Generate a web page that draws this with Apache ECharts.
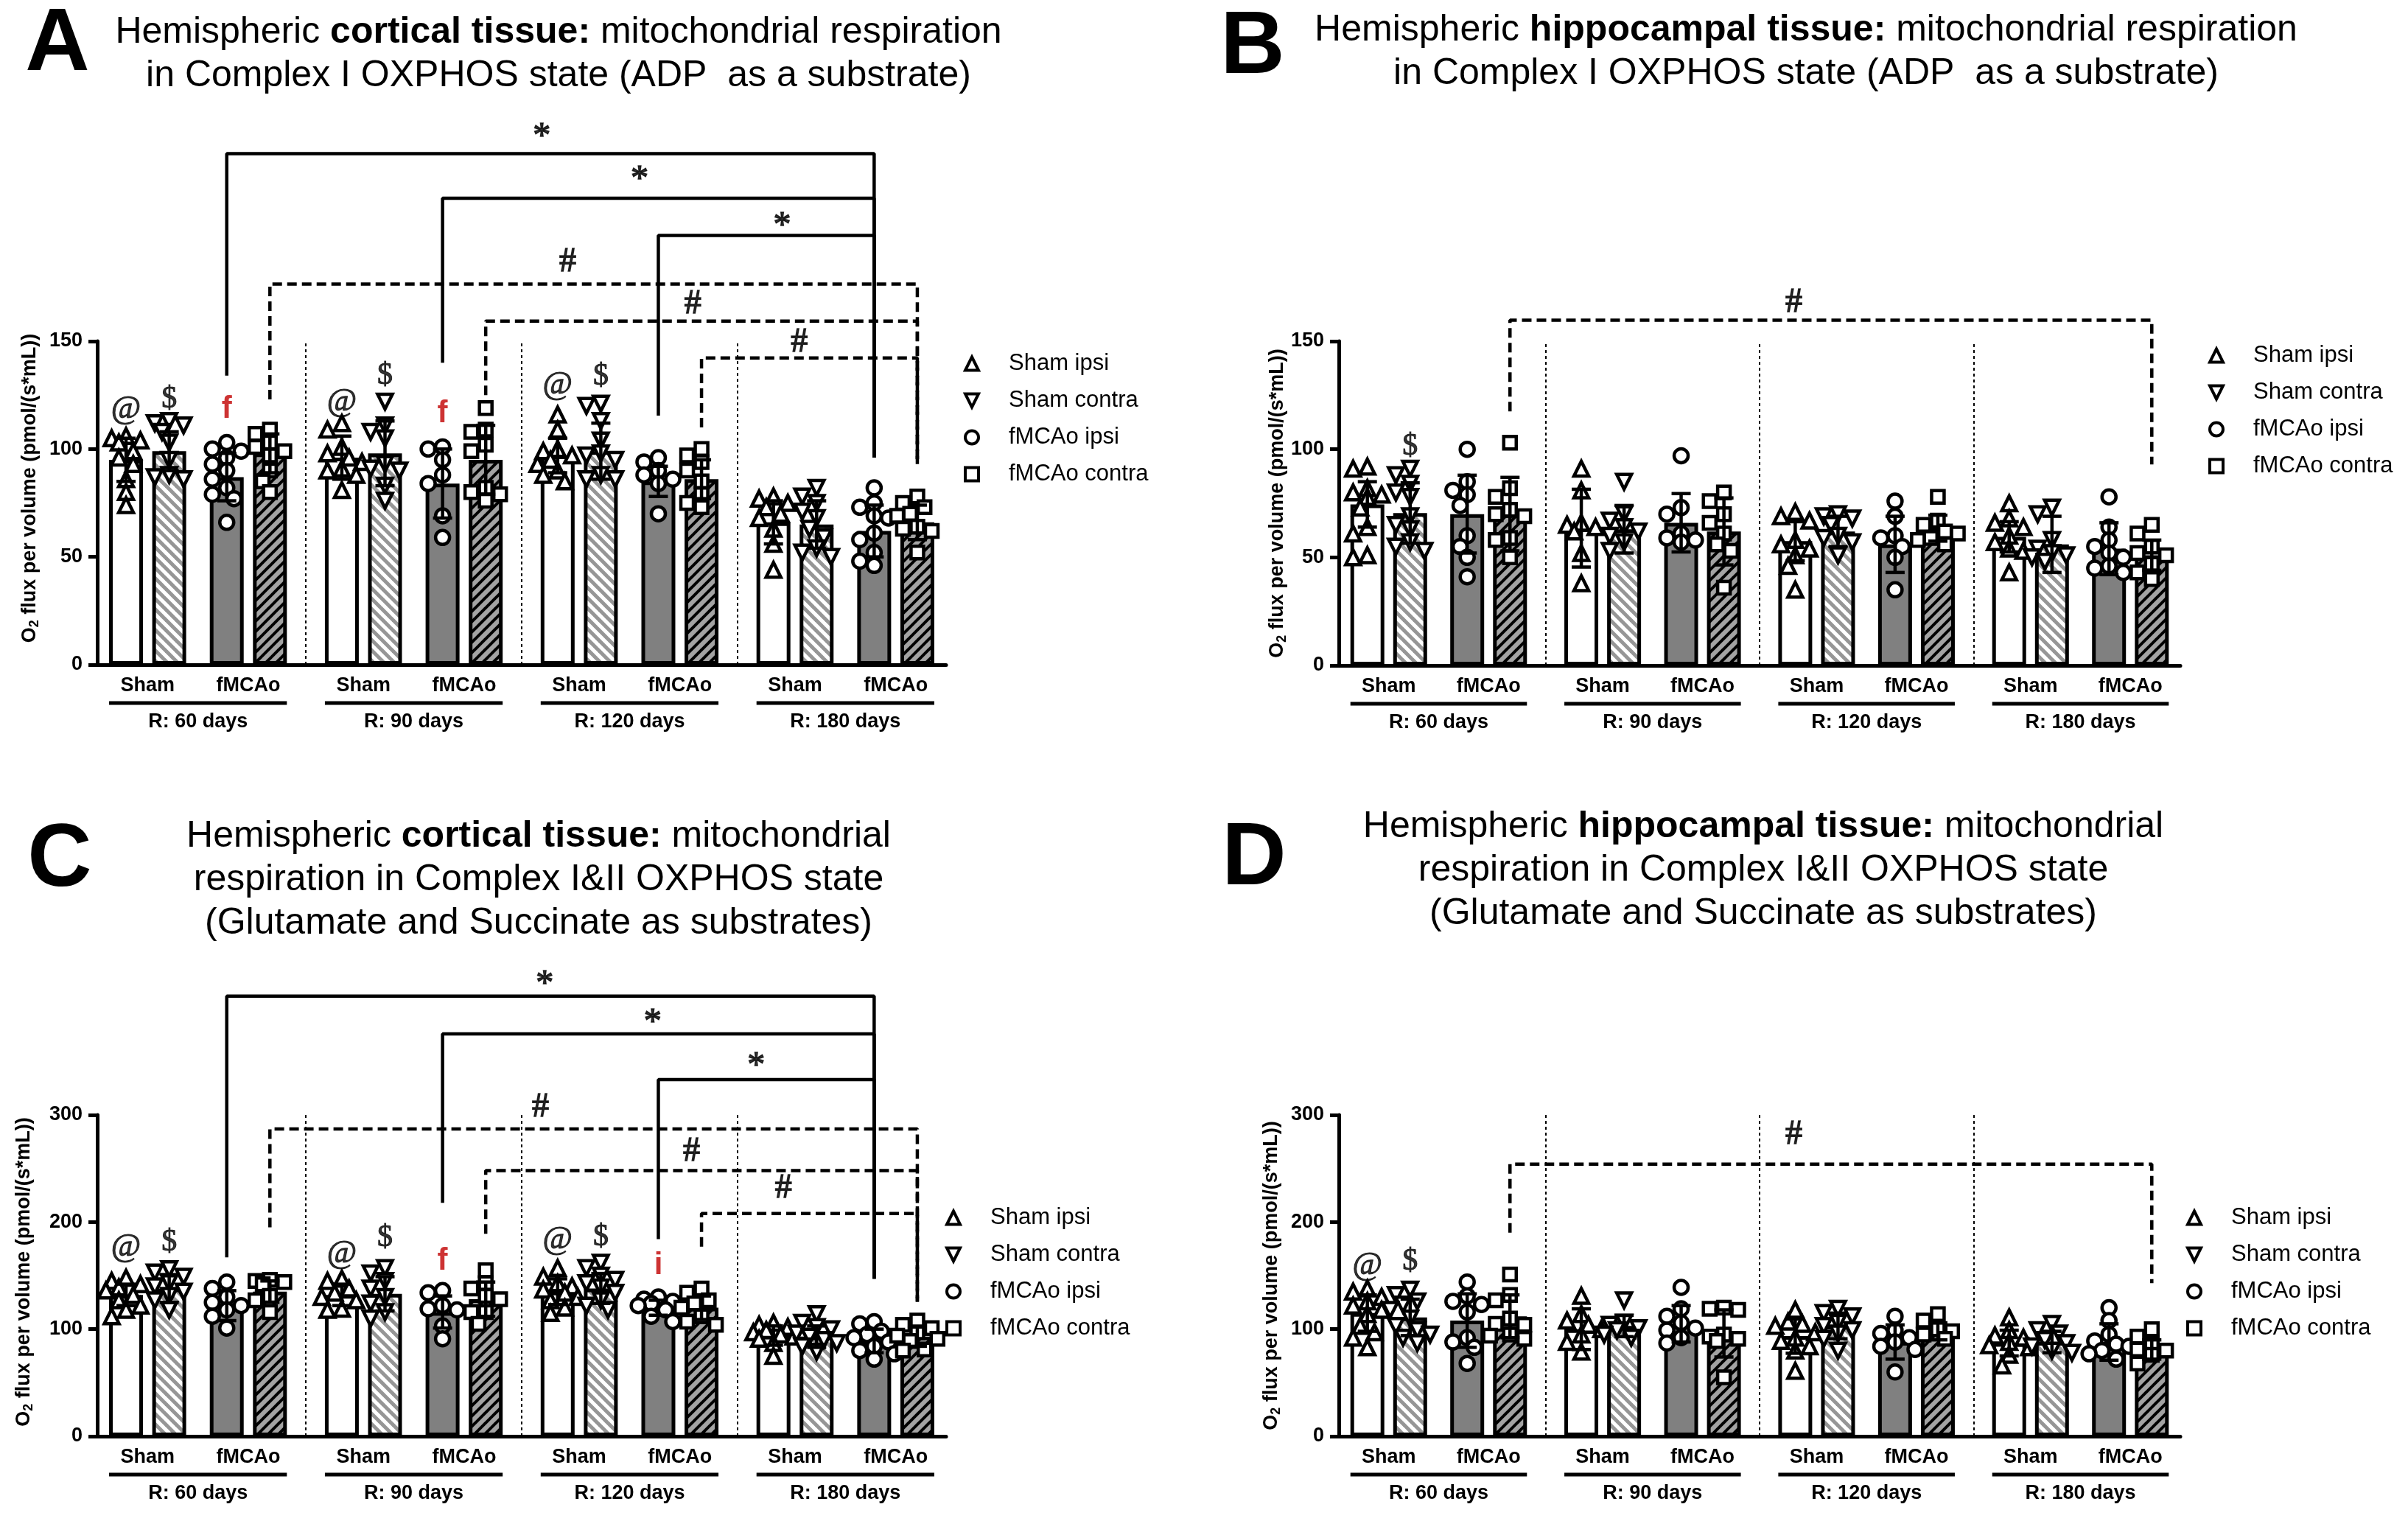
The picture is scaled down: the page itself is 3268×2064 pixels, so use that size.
<!DOCTYPE html>
<html>
<head>
<meta charset="utf-8">
<title>Mitochondrial respiration – cortical and hippocampal tissue</title>
<script src="https://cdn.jsdelivr.net/npm/echarts@6.0.0/dist/echarts.min.js"></script>
<style>
html,body{margin:0;padding:0;background:#ffffff;}
#chart{width:3268px;height:2064px;}
</style>
</head>
<body>
<div id="chart"></div>
<script>
// ====================== DATA ======================
const periods = ['R: 60 days', 'R: 90 days', 'R: 120 days', 'R: 180 days'];
const conditions = ['Sham', 'fMCAo'];
const groups = ['Sham ipsi', 'Sham contra', 'fMCAo ipsi', 'fMCAo contra'];
const ticksAB = [0, 50, 100, 150];
const ticksCD = [0, 100, 200, 300];

const titleA = ['Hemispheric ', 'cortical tissue:', ' mitochondrial respiration', 'in Complex I OXPHOS state (ADP  as a substrate)'];
const titleB = ['Hemispheric ', 'hippocampal tissue:', ' mitochondrial respiration', 'in Complex I OXPHOS state (ADP  as a substrate)'];
const titleC = ['Hemispheric ', 'cortical tissue:', ' mitochondrial', 'respiration in Complex I&II OXPHOS state', '(Glutamate and Succinate as substrates)'];
const titleD = ['Hemispheric ', 'hippocampal tissue:', ' mitochondrial', 'respiration in Complex I&II OXPHOS state', '(Glutamate and Succinate as substrates)'];
const letters = ['A', 'B', 'C', 'D'];

// Means and SD, [period][group]
const meanA = [[95, 99, 87, 98], [96, 98, 84, 95], [97, 99, 85, 86], [66, 65, 62, 66]];
const sdA   = [[10, 9, 11, 9], [10, 15, 16, 16], [8, 13, 7, 9], [10, 11, 12, 8]];
const meanB = [[74.5, 70.5, 70, 70], [63.5, 63, 66, 62], [57.5, 62, 56, 63.5], [59.5, 56, 54, 51]];
const sdB   = [[10.5, 14, 18, 17], [18, 11, 13.5, 15.5], [9, 7, 13, 6], [7, 13, 12, 7]];
const meanC = [[132, 138, 122, 135], [132, 133, 116, 128], [135, 138, 120, 120], [94, 93, 89, 93]];
const sdC   = [[10, 13, 14, 10], [10, 16, 15, 16], [12, 14, 7, 11], [9, 10, 11, 9]];
const meanD = [[115, 111, 108, 112], [100, 103, 105, 96], [93.5, 103, 88, 98], [87, 88, 88, 81]];
const sdD   = [[17, 17, 25, 20], [19, 10, 17, 22], [16, 12, 16, 8], [12, 10, 17, 9]];

// Individual animals, [period][group][...]
const ptsA = [
  [[106,105,104,103,99,96,93,86,80,74],[113,112,111,108,103,95,88,87,86],[103,100,99,96,93,90,86,82,79,77,66],[109,107,103,101,99,97,90,85,80]],
  [[112,109,101,98,96,94,91,90,88,81],[122,111,108,105,93,91,90,83,76],[101,100,95,88,84,69,59],[119,109,108,102,99,82,80,79,76]],
  [[116,109,100,99,97,95,93,90,88,85],[121,120,113,104,98,97,95,88,86,86],[96,94,90,88,86,84,70],[100,97,94,90,85,79,75,73]],
  [[78,77,75,73,70,68,63,56,44],[82,78,75,71,68,63,59,54,52,50],[82,75,73,69,68,61,58,52,48,46],[78,75,73,70,69,64,63,62,52]]
];
const ptsB = [
  [[92,91,82,80,79,78,73,64,61,51,50],[91,88,84,80,78,69,65,63,57,55,53],[100,85,81,79,74,60,55,50,41],[103,82,78,72,70,69,59,58,50]],
  [[91,81,66,65,64,62,52,38],[85,70,67,64,62,60,57,53],[97,73,70,61,59,58,57],[80,76,70,66,61,56,53,36]],
  [[71,69,67,58,56,54,51,46,35],[70,69,68,65,60,59,57,51],[76,69,60,59,55,50,35],[78,67,65,62,61,59,58,56]],
  [[75,68,66,64,60,57,54,53,43],[73,70,58,54,52,51,50,48],[78,64,58,55,52,50,46,45,43],[65,61,55,52,51,47,43,40]]
];
const ptsC = [
  [[148,145,142,139,136,132,127,122,118,112],[156,153,149,143,140,135,131,127,118],[144,138,130,125,122,118,112,101],[146,145,144,142,131,127,116]],
  [[147,145,138,134,130,127,119,118],[157,152,145,138,130,124,116,110],[136,134,122,119,118,103,91],[155,143,138,131,128,116,116,105]],
  [[157,149,143,140,137,134,130,127,120,115],[162,157,150,146,143,139,134,127,122,118],[130,128,126,124,122,118,112,107],[138,134,127,124,120,112,107,104]],
  [[106,104,102,99,97,95,93,91,87,75],[114,106,102,100,96,93,90,87,84,79],[107,105,98,95,92,88,84,80,77,72],[108,104,101,97,94,91,89,81,80]]
];
const ptsD = [
  [[138,135,130,126,122,118,114,103,97,92,83],[137,132,126,123,118,110,103,99,95,92,87],[144,131,126,123,116,92,88,83,68],[151,132,127,110,105,104,95,94,91]],
  [[131,114,108,104,100,95,88,79],[127,106,104,101,99,95,92],[139,119,112,106,101,99,92,87],[120,119,118,95,93,91,89,55]],
  [[118,107,105,103,97,92,89,84,80,61],[119,115,112,106,103,99,96,91,80],[112,99,96,92,88,84,81,60],[114,108,100,98,95,91]],
  [[111,99,94,92,88,85,83,76,66],[105,99,96,90,87,84,80,78],[120,108,95,89,86,84,80,77,72],[100,93,87,81,80,76,68]]
];

// Significance brackets: from/to = [period, group]; top/leg values in data units
const bracketsA = [
  {from:[0,2], to:[3,2], top:237,   legFrom:134,   legTo:96, dashed:false, text:'*', tx:28.9, ty:244.6},
  {from:[1,2], to:[3,2], top:216.3, legFrom:140,   legTo:96, dashed:false, text:'*', tx:35.7, ty:224.6},
  {from:[2,2], to:[3,2], top:199,   legFrom:115.5, legTo:96, dashed:false, text:'*', tx:45.6, ty:203.3},
  {from:[0,3], to:[3,3], top:176.5, legFrom:123,   legTo:93, dashed:true,  text:'#', tx:30.7, ty:186.5},
  {from:[1,3], to:[3,3], top:159.3, legFrom:125,   legTo:93, dashed:true,  text:'#', tx:39.4, ty:167.2},
  {from:[2,3], to:[3,3], top:142.2, legFrom:110,   legTo:93, dashed:true,  text:'#', tx:46.8, ty:149.4}
];
const bracketsB = [
  {from:[0,3], to:[3,3], top:159.7, legFrom:117.5, legTo:93, dashed:true, text:'#', tx:29.9, ty:167.6}
];
const bracketsC = [
  {from:[0,2], to:[3,2], top:411,   legFrom:167, legTo:147,   dashed:false, text:'*', tx:29.1, ty:421.5},
  {from:[1,2], to:[3,2], top:375.7, legFrom:218, legTo:147,   dashed:false, text:'*', tx:36.6, ty:385.6},
  {from:[2,2], to:[3,2], top:333,   legFrom:184, legTo:147,   dashed:false, text:'*', tx:43.8, ty:345.4},
  {from:[0,3], to:[3,3], top:287,   legFrom:195, legTo:125.6, dashed:true,  text:'#', tx:28.8, ty:307.2},
  {from:[1,3], to:[3,3], top:248,   legFrom:189, legTo:125.6, dashed:true,  text:'#', tx:39.3, ty:265.6},
  {from:[2,3], to:[3,3], top:208,   legFrom:177, legTo:125.6, dashed:true,  text:'#', tx:45.7, ty:231.2}
];
const bracketsD = [
  {from:[0,3], to:[3,3], top:254, legFrom:190, legTo:143, dashed:true, text:'#', tx:29.9, ty:281.4}
];

// Symbols above bars: [period, group, value, text]
const marksA = [[0,0,118.5,'@'],[0,1,123,'$'],[0,2,118.5,'f'],[1,0,122,'@'],[1,1,134,'$'],[1,2,116.5,'f'],[2,0,129.7,'@'],[2,1,133.6,'$']];
const marksB = [[0,1,101.3,'$']];
const marksC = [[0,0,176.8,'@'],[0,1,180.8,'$'],[1,0,170,'@'],[1,1,184.8,'$'],[1,2,163.3,'f'],[2,0,183.5,'@'],[2,1,186,'$'],[2,2,159.3,'i']];
const marksD = [[0,0,159.3,'@'],[0,1,163.3,'$']];

// ====================== STYLE / LAYOUT ======================
const F = "'Liberation Sans', Arial, Helvetica, sans-serif";
const FS = "'Liberation Serif', 'Times New Roman', serif";
const OFF = [0, 3, 7, 10];      // bar slots inside a period
const PERIOD_W = 15;            // slots per period
const X_MIN = -2, X_MAX = 57;
const xOf = (p, g) => p * PERIOD_W + OFF[g];

const layout = [
  {grid:{left:132,  top:463,  width:1152, height:439}, nameGap:76, nameShift:40, legend:{left:1308, top:478},  title:{left:758,  top:15},   letter:{left:78,   top:1}},
  {grid:{left:1817, top:463,  width:1142, height:440}, nameGap:68, nameShift:0,  legend:{left:2997, top:467},  title:{left:2451, top:12},   letter:{left:1700, top:5}},
  {grid:{left:132,  top:1513, width:1152, height:436}, nameGap:84, nameShift:10, legend:{left:1283, top:1637}, title:{left:731,  top:1106}, letter:{left:81,   top:1108}},
  {grid:{left:1817, top:1513, width:1142, height:436}, nameGap:76, nameShift:0,  legend:{left:2967, top:1637}, title:{left:2393, top:1093}, letter:{left:1702, top:1106}}
];

const panels = [
  {means:meanA, sds:sdA, pts:ptsA, ticks:ticksAB, brackets:bracketsA, marks:marksA, title:titleA},
  {means:meanB, sds:sdB, pts:ptsB, ticks:ticksAB, brackets:bracketsB, marks:marksB, title:titleB},
  {means:meanC, sds:sdC, pts:ptsC, ticks:ticksCD, brackets:bracketsC, marks:marksC, title:titleC},
  {means:meanD, sds:sdD, pts:ptsD, ticks:ticksCD, brackets:bracketsD, marks:marksD, title:titleD}
];

function stripes(bg, fg, dir, P, lw) {
  const c = document.createElement('canvas');
  c.width = P; c.height = P;
  const ctx = c.getContext('2d');
  ctx.fillStyle = bg; ctx.fillRect(0, 0, P, P);
  ctx.strokeStyle = fg; ctx.lineWidth = lw; ctx.lineCap = 'square';
  for (let k = -1; k <= 1; k++) {
    ctx.beginPath();
    if (dir === '/') { ctx.moveTo(k * P, P); ctx.lineTo(k * P + P, 0); }
    else { ctx.moveTo(k * P, 0); ctx.lineTo(k * P + P, P); }
    ctx.stroke();
  }
  return c;
}
const fills = [
  '#ffffff',
  {image: stripes('#ffffff', '#969696', '\\', 14, 5), repeat: 'repeat'},
  '#808080',
  {image: stripes('#a3a3a3', '#000000', '/', 14, 4), repeat: 'repeat'}
];
const DOWN_TRI = 'path://M0,0L20,0L10,20Z';
const symbols = ['triangle', DOWN_TRI, 'circle', 'rect'];
const symSize = [20, 20, 19, 17];

const markStyle = {
  '@': {fontFamily: FS, fontSize: 44, color: '#000', textBorderColor: '#000', textBorderWidth: 1},
  '$': {fontFamily: FS, fontSize: 42, color: '#000', textBorderColor: '#000', textBorderWidth: 1},
  'f': {fontFamily: F, fontSize: 42, fontWeight: 'bold', color: '#c00000'},
  'i': {fontFamily: F, fontSize: 42, fontWeight: 'bold', color: '#c00000'},
  '*': {fontFamily: FS, fontSize: 48, color: '#000', textBorderColor: '#000', textBorderWidth: 1.5},
  '#': {fontFamily: FS, fontSize: 46, color: '#000', textBorderColor: '#000', textBorderWidth: 1.5}
};

// beeswarm-like horizontal spreading (layout only)
function swarmOffsets(vals, pxX, pxY, minD) {
  const idx = vals.map((v, i) => i).sort((a, b) => vals[b] - vals[a]);
  const cands = [0, -0.5, 0.5, -1.0, 1.0, -1.4, 1.4];
  const placed = [], out = [];
  idx.forEach(i => {
    let best = 0, bestScore = -1;
    for (const c of cands) {
      let dmin = Infinity;
      placed.forEach(p => { dmin = Math.min(dmin, Math.hypot((p.o - c) * pxX, (p.v - vals[i]) * pxY)); });
      if (dmin >= minD) { best = c; bestScore = Infinity; break; }
      if (dmin > bestScore) { bestScore = dmin; best = c; }
    }
    out[i] = best;
    placed.push({o: best, v: vals[i]});
  });
  return out;
}

function errRender(params, api) {
  const x = api.value(0), m = api.value(1), s = api.value(2);
  const t = api.coord([x, m + s]), b = api.coord([x, m - s]);
  const hw = 13, st = {stroke: '#000', lineWidth: 4.5};
  return {type: 'group', children: [
    {type: 'line', shape: {x1: t[0], y1: t[1], x2: b[0], y2: b[1]}, style: st},
    {type: 'line', shape: {x1: t[0] - hw, y1: t[1], x2: t[0] + hw, y2: t[1]}, style: st},
    {type: 'line', shape: {x1: b[0] - hw, y1: b[1], x2: b[0] + hw, y2: b[1]}, style: st}
  ]};
}

// ====================== BUILD OPTION ======================
const grids = [], xAxes = [], yAxes = [], series = [], titles = [], legends = [];

panels.forEach((P, pi) => {
  const L = layout[pi];
  const yMax = P.ticks[P.ticks.length - 1];
  const yInt = P.ticks[1] - P.ticks[0];
  const pxX = L.grid.width / (X_MAX - X_MIN);
  const pxY = L.grid.height / yMax;

  grids.push(Object.assign({containLabel: false, outerBoundsMode: 'none'}, L.grid));
  xAxes.push({
    type: 'value', gridIndex: pi, min: X_MIN, max: X_MAX,
    axisLine: {show: true, onZero: false, lineStyle: {color: '#000', width: 5}},
    axisTick: {show: false}, axisLabel: {show: false}, splitLine: {show: false}
  });
  yAxes.push({
    type: 'value', gridIndex: pi, min: P.ticks[0], max: yMax, interval: yInt,
    axisLine: {show: true, onZero: false, lineStyle: {color: '#000', width: 5}},
    axisTick: {show: true, length: 12, lineStyle: {color: '#000', width: 5}},
    axisLabel: {fontSize: 27, fontWeight: 'bold', fontFamily: F, color: '#000', margin: 20},
    splitLine: {show: false},
    name: '{o|O}{s|2}{o| flux per volume (pmol/(s*mL))}',
    nameLocation: 'middle', nameGap: L.nameGap, nameRotate: 90, nameMoveOverlap: false,
    nameTextStyle: {padding: [0, 0, 0, L.nameShift], rich: {
      o: {fontSize: 27, fontWeight: 'bold', fontFamily: F, color: '#000', lineHeight: 31},
      s: {fontSize: 18, fontWeight: 'bold', fontFamily: F, color: '#000', verticalAlign: 'bottom', lineHeight: 31}
    }}
  });

  // bars
  groups.forEach((g, gi) => {
    const s = {
      type: 'bar', name: g + ' (mean)', xAxisIndex: pi, yAxisIndex: pi,
      barWidth: 46, barGap: '-100%', silent: true, z: 2,
      data: P.means.map((row, k) => [xOf(k, gi), row[gi]]),
      itemStyle: {color: fills[gi], borderColor: '#000', borderWidth: 5}
    };
    if (gi === 0) {
      s.markLine = {
        silent: true, symbol: ['none', 'none'], label: {show: false},
        lineStyle: {color: '#000', width: 2, type: [4, 4]},
        data: [{xAxis: 12.5}, {xAxis: 27.5}, {xAxis: 42.5}]
      };
    }
    series.push(s);
  });

  // individual points
  groups.forEach((g, gi) => {
    const data = [];
    P.pts.forEach((periodPts, k) => {
      const vals = periodPts[gi];
      const offs = swarmOffsets(vals, pxX, pxY, 16);
      vals.forEach((v, j) => data.push([xOf(k, gi) + offs[j], v]));
    });
    series.push({
      type: 'scatter', name: g, xAxisIndex: pi, yAxisIndex: pi, z: 3, silent: true, clip: false,
      symbol: symbols[gi], symbolSize: symSize[gi], symbolKeepAspect: true,
      itemStyle: {color: '#ffffff', borderColor: '#000', borderWidth: 4.5, opacity: 1},
      data: data
    });
  });

  // error bars (mean ± SD)
  const errData = [];
  P.means.forEach((row, k) => row.forEach((m, gi) => errData.push([xOf(k, gi), m, P.sds[k][gi]])));
  series.push({
    type: 'custom', name: 'SD', xAxisIndex: pi, yAxisIndex: pi, z: 4, silent: true, clip: false,
    renderItem: errRender, encode: {x: 0, y: 1}, data: errData
  });

  // brackets
  P.brackets.forEach(b => {
    const x1 = xOf(b.from[0], b.from[1]), x2 = xOf(b.to[0], b.to[1]);
    series.push({
      type: 'line', xAxisIndex: pi, yAxisIndex: pi, z: 5, silent: true, clip: false,
      symbol: 'none', showSymbol: false,
      lineStyle: {color: '#000', width: 4.5, type: b.dashed ? [13, 7] : 'solid'},
      data: [[x1, b.legFrom], [x1, b.top], [x2, b.top], [x2, b.legTo]]
    });
  });

  // text annotations (* # @ $ f i)
  const txt = [];
  P.brackets.forEach(b => txt.push({value: [b.tx, b.ty], t: b.text}));
  P.marks.forEach(m => txt.push({value: [xOf(m[0], m[1]), m[2]], t: m[3]}));
  series.push({
    type: 'scatter', xAxisIndex: pi, yAxisIndex: pi, z: 6, silent: true, clip: false,
    symbol: 'circle', symbolSize: 1, itemStyle: {color: 'rgba(0,0,0,0)'},
    data: txt.map(d => ({
      value: d.value,
      label: Object.assign({show: true, position: 'inside', formatter: d.t}, markStyle[d.t])
    }))
  });

  // title
  const T = P.title;
  let text = '{n|' + T[0] + '}{b|' + T[1] + '}{n|' + T[2] + '}';
  for (let i = 3; i < T.length; i++) text += '\n{n|' + T[i] + '}';
  titles.push({
    text: text, left: L.title.left, top: L.title.top, textAlign: 'center', padding: 0,
    textStyle: {fontWeight: 'normal', fontSize: 50, fontFamily: F, color: '#000', rich: {
      n: {fontSize: 50, fontFamily: F, fontWeight: 'normal', color: '#000', lineHeight: 59},
      b: {fontSize: 50, fontFamily: F, fontWeight: 'bold', color: '#000', lineHeight: 59}
    }}
  });
  titles.push({
    text: letters[pi], left: L.letter.left, top: L.letter.top, textAlign: 'center', padding: 0,
    textStyle: {fontSize: 121, fontWeight: 'bold', fontFamily: F, color: '#000'}
  });

  legends.push({
    data: groups, orient: 'vertical', left: L.legend.left, top: L.legend.top, padding: 0,
    itemWidth: 18, itemHeight: 18, itemGap: 19, selectedMode: false,
    itemStyle: {color: '#ffffff', borderColor: '#000', borderWidth: 4},
    textStyle: {fontSize: 31, fontFamily: F, color: '#000', padding: [0, 0, 0, 36]}
  });
});

const chart = echarts.init(document.getElementById('chart'), null, {renderer: 'canvas', width: 3268, height: 2064});
chart.setOption({
  backgroundColor: '#ffffff',
  animation: false,
  title: titles,
  legend: legends,
  grid: grids,
  xAxis: xAxes,
  yAxis: yAxes,
  series: series
});

// labels under the x axes (positions from the chart's own scales)
const gEls = [];
const txtStyle = (x, y, t) => ({
  type: 'text', x: x, y: y, silent: true,
  style: {text: t, fontSize: 27, fontWeight: 'bold', fontFamily: F, fill: '#000', align: 'center', verticalAlign: 'middle'}
});
panels.forEach((P, pi) => {
  const toPx = (x, y) => chart.convertToPixel({gridIndex: pi}, [x, y]);
  const y0 = toPx(0, 0)[1];
  periods.forEach((name, k) => {
    const xs = toPx(k * PERIOD_W + (OFF[0] + OFF[1]) / 2, 0)[0];
    const xf = toPx(k * PERIOD_W + (OFF[2] + OFF[3]) / 2, 0)[0];
    const xl = toPx(xOf(k, 0), 0)[0] - 23;
    const xr = toPx(xOf(k, 3), 0)[0] + 23;
    const xc = toPx(k * PERIOD_W + (OFF[0] + OFF[3]) / 2, 0)[0];
    gEls.push(txtStyle(xs, y0 + 29, conditions[0]));
    gEls.push(txtStyle(xf, y0 + 29, conditions[1]));
    gEls.push({type: 'line', silent: true, shape: {x1: xl, y1: y0 + 52, x2: xr, y2: y0 + 52}, style: {stroke: '#000', lineWidth: 5}});
    gEls.push(txtStyle(xc, y0 + 78, name));
  });
});
chart.setOption({graphic: {elements: gEls}});
</script>
</body>
</html>
